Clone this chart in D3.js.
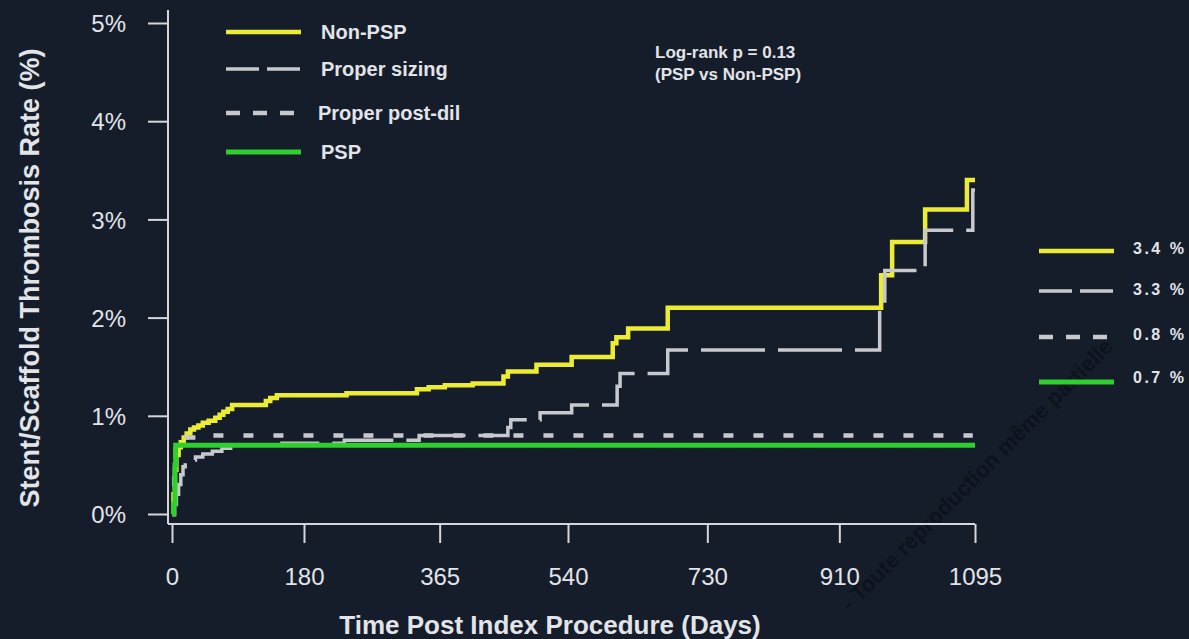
<!DOCTYPE html>
<html>
<head>
<meta charset="utf-8">
<script src="https://cdn.jsdelivr.net/npm/d3@7"></script>
<style>
  html, body { margin: 0; padding: 0; background: #151d2b; }
  svg { display: block; }
  text { font-family: "Liberation Sans", Arial, sans-serif; fill: #e2e4e8; }
</style>
</head>
<body>
<svg id="chart" width="1189" height="639"></svg>
<script>
// ---- data -------------------------------------------------------------
const seriesNames = ["Non-PSP", "Proper sizing", "Proper post-dil", "PSP"];
const endLabels   = ["3.4 %", "3.3 %", "0.8 %", "0.7 %"];
const xTicks = [0, 180, 365, 540, 730, 910, 1095];
const yTicks = [0, 1, 2, 3, 4, 5];
const pValueText = ["Log-rank p = 0.13", "(PSP vs Non-PSP)"];

// cumulative incidence (%), [day, value] pairs, value holds until next day
const nonPSP = [
  [0, 0], [2, 0.2], [4, 0.45], [6, 0.6], [9, 0.68], [12, 0.73], [16, 0.78],
  [20, 0.82], [25, 0.86], [30, 0.88], [36, 0.9], [42, 0.93], [50, 0.95],
  [59, 0.98], [65, 1.01], [70, 1.04], [76, 1.07], [82, 1.11], [128, 1.15],
  [134, 1.18], [143, 1.21], [238, 1.23], [334, 1.27], [350, 1.29], [372, 1.31],
  [410, 1.33], [452, 1.40], [458, 1.45], [497, 1.52], [545, 1.60], [601, 1.74],
  [606, 1.80], [622, 1.89], [676, 2.10], [967, 2.43], [982, 2.77], [1027, 3.10],
  [1084, 3.40], [1095, 3.40]
];
const properSizing = [
  [0, 0], [3, 0.1], [6, 0.2], [9, 0.3], [12, 0.4], [15, 0.48], [18, 0.52],
  [24, 0.55], [32, 0.58], [42, 0.61], [55, 0.64], [68, 0.67], [80, 0.70],
  [150, 0.72], [235, 0.75], [337, 0.80], [458, 0.88], [462, 0.96], [502, 1.03],
  [545, 1.11], [607, 1.30], [611, 1.43], [676, 1.67], [965, 2.10], [972, 2.48],
  [1027, 2.89], [1092, 3.30], [1095, 3.30]
];
const properPostDil = [
  [0, 0], [3, 0.4], [5, 0.7], [20, 0.78], [40, 0.80], [1092, 0.80]
];
const psp = [
  [0, 0], [2, 0.1], [4, 0.5], [5, 0.7], [1095, 0.7]
];

const seriesData = [nonPSP, properSizing, properPostDil, psp];

// ---- styles -----------------------------------------------------------
const seriesStyle = [
  { color: "#ecec34", width: 4.5, dash: null,    legendDash: null },
  { color: "#c8c9ce", width: 3.5, dash: "64,13", legendDash: "33,8" },
  { color: "#c8c9ce", width: 4.5, dash: "10,20", legendDash: "14,13" },
  { color: "#2ecf2e", width: 5,   dash: null,    legendDash: null }
];

const svg = d3.select("#chart");
const W = 1189, H = 639;

svg.append("rect").attr("width", W).attr("height", H).attr("fill", "#151d2b");

// faint watermark text, darker than the background
svg.append("text")
  .attr("transform", "translate(850,612) rotate(-45)")
  .attr("fill", "#070a10")
  .style("font-size", "22px")
  .style("font-weight", "bold")
  .style("fill", "#070a10")
  .style("opacity", 0.5)
  .text("- Toute reproduction même partielle");

const x = d3.scaleLinear().domain([0, 1095]).range([172, 975]);
const y = d3.scaleLinear().domain([0, 5]).range([514, 23]);

const axisColor = "#d4d6da";

// ---- y axis ------------------------------------------------------------
const yAxis = svg.append("g")
  .attr("transform", `translate(${x(0) - 4},0)`)
  .call(d3.axisLeft(y).tickValues(yTicks).tickSize(20).tickPadding(22)
        .tickFormat(d => d + "%"));
yAxis.select(".domain").remove();
yAxis.selectAll(".tick line").attr("stroke", axisColor).attr("stroke-width", 2);
yAxis.selectAll(".tick text")
  .style("font-size", "24px").attr("fill", "#e2e4e8").attr("dy", "0.36em");
yAxis.append("line")
  .attr("x1", 0).attr("x2", 0)
  .attr("y1", y(5) - 13).attr("y2", y(0) + 10)
  .attr("stroke", axisColor).attr("stroke-width", 2);

// ---- x axis ------------------------------------------------------------
const xAxisY = y(0) + 10;
const xAxis = svg.append("g")
  .attr("transform", `translate(0,${xAxisY})`)
  .call(d3.axisBottom(x).tickValues(xTicks).tickSize(19).tickPadding(25)
        .tickFormat(d3.format("d")));
xAxis.select(".domain").remove();
xAxis.selectAll(".tick line").attr("stroke", axisColor).attr("stroke-width", 2);
xAxis.selectAll(".tick text").style("font-size", "24px").attr("fill", "#e2e4e8");
xAxis.append("line")
  .attr("x1", x(0) - 4).attr("x2", x(1095))
  .attr("y1", 0).attr("y2", 0)
  .attr("stroke", axisColor).attr("stroke-width", 2);

// ---- axis titles ---------------------------------------------------------
svg.append("text")
  .attr("x", 550).attr("y", 634)
  .attr("text-anchor", "middle")
  .style("font-size", "26px").style("font-weight", "bold")
  .text("Time Post Index Procedure (Days)");

svg.append("text")
  .attr("transform", `translate(39,278) rotate(-90)`)
  .attr("text-anchor", "middle")
  .style("font-size", "27px").style("font-weight", "bold")
  .text("Stent/Scaffold Thrombosis  Rate (%)");

// ---- curves ------------------------------------------------------------
const line = d3.line()
  .x(d => x(d[0]))
  .y(d => y(d[1]))
  .curve(d3.curveStepAfter);

svg.append("g").selectAll("path")
  .data(seriesData)
  .join("path")
  .attr("d", line)
  .attr("fill", "none")
  .attr("stroke", (d, i) => seriesStyle[i].color)
  .attr("stroke-width", (d, i) => seriesStyle[i].width)
  .attr("stroke-dasharray", (d, i) => seriesStyle[i].dash)
  .attr("stroke-linejoin", "miter");

// ---- legend (top left) -----------------------------------------------------
const legendRowsY = [32, 69, 113, 152];
const legend = svg.append("g");
seriesNames.forEach((name, i) => {
  const s = seriesStyle[i];
  legend.append("line")
    .attr("x1", 226).attr("x2", 301)
    .attr("y1", legendRowsY[i]).attr("y2", legendRowsY[i])
    .attr("stroke", s.color).attr("stroke-width", s.width)
    .attr("stroke-dasharray", s.legendDash);
  legend.append("text")
    .attr("x", i === 2 ? 318 : 321).attr("y", legendRowsY[i])
    .attr("dy", "0.35em")
    .style("font-size", "20px").style("font-weight", "bold")
    .text(name);
});

// ---- p-value annotation ------------------------------------------------------
svg.append("g").selectAll("text")
  .data(pValueText)
  .join("text")
  .attr("x", 655).attr("y", (d, i) => 58 + i * 22)
  .style("font-size", "17px").style("font-weight", "bold")
  .text(d => d);

// ---- end-value legend (right) ---------------------------------------------
const endRowsY = [251, 291, 337, 382];
const endTextY = [248, 289, 334, 377];
const endLegend = svg.append("g");
endLabels.forEach((lab, i) => {
  const s = seriesStyle[i];
  endLegend.append("line")
    .attr("x1", 1039).attr("x2", 1114)
    .attr("y1", endRowsY[i]).attr("y2", endRowsY[i])
    .attr("stroke", s.color).attr("stroke-width", s.width)
    .attr("stroke-dasharray", s.legendDash);
  endLegend.append("text")
    .attr("x", 1133).attr("y", endTextY[i])
    .attr("dy", "0.35em")
    .style("font-size", "16px").style("font-weight", "bold")
    .style("letter-spacing", "2.5px")
    .text(lab);
});
</script>
</body>
</html>
